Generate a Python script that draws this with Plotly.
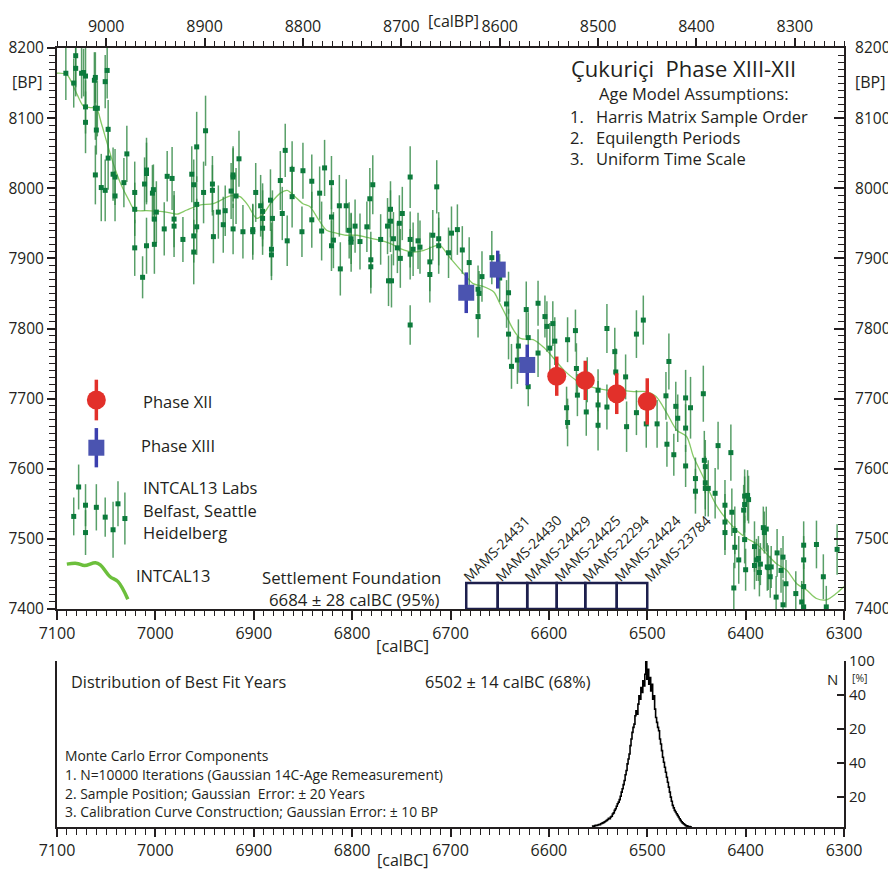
import plotly.graph_objects as go

# the page body adds an 8 px margin, so the figure is drawn 8 px in and 8 px down
W, H = 888, 864
OFF = 8

# ---------------- data ----------------
# INTCAL13 lab measurements (calBC, BP, 1-sigma)
intcal_cal_a = [7091, 7083, 7081, 7081, 7075, 7073, 7071, 7071, 7071, 7062,
                7061, 7061, 7059, 7060, 7061, 7055, 7051, 7051, 7049, 7048,
                7048, 7043, 7041, 7041, 7032, 7029, 7021, 7021, 7021, 7013,
                7011, 7009, 7009, 7003, 7002, 7001, 7001, 6999, 7009, 6991,
                6988, 6983, 6981, 6981, 6972, 6963, 6961, 6958, 6958, 6961,
                6961, 6958, 6949, 6951, 6942, 6942, 6941, 6936, 6931, 6929,
                6923, 6921, 6921, 6921, 6918, 6915, 6911, 6901, 6901, 6898,
                6893, 6891, 6891, 6891, 6883, 6882, 6882, 6881, 6873, 6871,
                6868, 6866, 6861, 6861, 6851, 6850, 6841, 6841, 6833, 6831,
                6828, 6821, 6821, 6821, 6819, 6812, 6813, 6806, 6803, 6801,
                6801, 6797, 6792, 6785, 6782, 6781, 6781, 6779, 6771, 6764,
                6763, 6760, 6761, 6761, 6758, 6754, 6752, 6751, 6749, 6741,
                6741, 6741, 6738, 6733, 6731, 6721, 6721, 6718, 6714, 6712,
                6712, 6702, 6741]
intcal_bp_a = [8164, 8150, 8189, 8171, 8164, 8165, 8160, 8116, 8094, 8154,
               8158, 8114, 8114, 8083, 8019, 8001, 7997, 8152, 8168, 8084,
               8043, 8020, 8016, 7989, 8008, 8049, 7994, 7970, 7915, 7873,
               8006, 8026, 8021, 7993, 7998, 7956, 7920, 7966, 7918, 7942,
               8017, 8014, 7956, 7946, 7927, 8020, 8005, 8059, 7977, 7932,
               7909, 7945, 8082, 7994, 8006, 7997, 7931, 7966, 7948, 7968,
               7996, 8019, 8016, 7942, 7989, 8042, 7938, 7941, 7938, 7994,
               7975, 7967, 7943, 7957, 7983, 7913, 7905, 7957, 8011, 7964,
               8054, 7925, 8027, 7988, 7938, 8025, 8010, 7955, 7993, 7939,
               8029, 8008, 7959, 7918, 7926, 7885, 7975, 7975, 7940, 7928,
               7923, 7946, 7924, 7945, 7985, 7898, 7888, 8005, 7927, 7946,
               7868, 7868, 7970, 7953, 7928, 7915, 7950, 7900, 7964, 8016,
               7927, 7906, 7913, 7925, 7916, 7895, 7877, 7933, 8002, 7918,
               7928, 7908, 7805]
intcal_err_a = [38, 35, 45, 40, 36, 34, 42, 38, 44, 40,
                36, 45, 40, 35, 42, 48, 44, 38, 40, 42,
                45, 38, 40, 36, 35, 40, 44, 38, 40, 30,
                38, 46, 44, 40, 36, 38, 42, 44, 40, 38,
                36, 45, 40, 44, 32, 40, 36, 50, 40, 38,
                46, 40, 50, 44, 40, 36, 38, 38, 40, 36,
                40, 38, 44, 36, 40, 40, 38, 36, 40, 42,
                44, 40, 38, 40, 44, 38, 36, 40, 42, 38,
                38, 36, 40, 44, 36, 40, 38, 40, 38, 42,
                40, 38, 42, 36, 40, 38, 44, 38, 40, 36,
                42, 38, 40, 36, 44, 40, 38, 42, 36, 40,
                36, 38, 40, 44, 38, 36, 40, 42, 38, 44,
                40, 36, 38, 40, 38, 42, 40, 36, 38, 40,
                38, 36, 28]

intcal_cal_b = [6699, 6693, 6688, 6681, 6672, 6671, 6668, 6658, 6650, 6641]
intcal_bp_b = [7936, 7941, 7912, 7894, 7856, 7850, 7874, 7901, 7872, 7851]
intcal_err_b = [38, 36, 34, 36, 34, 32, 36, 38, 34, 30]

intcal_cal_c = [6672, 6643, 6641, 6638, 6631, 6632, 6623, 6621, 6621, 6611,
                6611, 6604, 6602, 6596, 6594, 6599, 6582, 6581, 6581, 6573,
                6572, 6571, 6562, 6561, 6550, 6550, 6550, 6541, 6541, 6533,
                6532, 6522, 6521, 6511, 6511, 6504, 6501, 6490, 6481, 6480,
                6478, 6473, 6471, 6469, 6461, 6461, 6461, 6456, 6451, 6451,
                6443, 6442, 6441, 6441, 6441, 6438, 6431, 6428, 6421, 6421,
                6421, 6415, 6414, 6412, 6411, 6411, 6407, 6402, 6401, 6401,
                6401, 6400, 6398, 6397, 6391, 6391, 6389, 6387, 6386, 6385,
                6382, 6381, 6379, 6378, 6375, 6377, 6374, 6368, 6369, 6364,
                6362, 6362, 6359, 6349, 6343, 6341, 6341, 6341, 6341, 6328,
                6321, 6318, 6307]
intcal_bp_c = [7817, 7835, 7792, 7746, 7775, 7755, 7827, 7787, 7717, 7836,
               7765, 7817, 7803, 7807, 7782, 7772, 7687, 7784, 7666, 7797,
               7743, 7705, 7681, 7727, 7712, 7691, 7662, 7800, 7688, 7767,
               7738, 7731, 7660, 7792, 7680, 7812, 7664, 7664, 7704, 7635,
               7753, 7620, 7689, 7672, 7701, 7604, 7658, 7687, 7586, 7568,
               7707, 7612, 7603, 7580, 7572, 7572, 7565, 7633, 7548, 7524,
               7509, 7623, 7538, 7430, 7512, 7488, 7470, 7541, 7549, 7561,
               7499, 7456, 7562, 7556, 7489, 7462, 7470, 7472, 7452, 7464,
               7516, 7509, 7514, 7460, 7446, 7459, 7460, 7480, 7417, 7455,
               7474, 7406, 7436, 7422, 7410, 7491, 7470, 7432, 7403, 7492,
               7446, 7403, 7485]
intcal_err_c = [30, 34, 36, 32, 38, 34, 40, 36, 28, 32,
                34, 30, 36, 32, 34, 36, 30, 32, 34, 30,
                36, 30, 34, 32, 30, 34, 36, 35, 32, 34,
                34, 32, 36, 34, 32, 35, 34, 34, 34, 32,
                40, 30, 35, 34, 40, 30, 34, 44, 30, 32,
                40, 42, 38, 38, 40, 40, 36, 34, 36, 40,
                32, 40, 34, 36, 34, 30, 34, 36, 40, 38,
                34, 30, 36, 34, 36, 34, 30, 32, 34, 30,
                30, 30, 32, 34, 30, 32, 30, 34, 30, 32,
                30, 36, 34, 32, 30, 34, 34, 32, 30, 34,
                32, 30, 36]

# INTCAL13 calibration curve
curve_cal = [7100, 7090, 7080, 7073, 7066, 7060, 7055, 7049, 7043, 7036,
             7027, 7021, 7009, 6995, 6985, 6978, 6968, 6955, 6941, 6924,
             6914, 6906, 6897, 6890, 6883, 6873, 6866, 6858, 6850, 6843,
             6834, 6826, 6816, 6806, 6795, 6785, 6772, 6761, 6751, 6738,
             6728, 6717, 6711, 6700, 6687, 6677, 6667, 6656, 6650, 6643,
             6636, 6629, 6616, 6606, 6599, 6585, 6572, 6558, 6541, 6528,
             6514, 6501, 6491, 6480, 6470, 6460, 6453, 6443, 6436, 6429,
             6419, 6409, 6399, 6389, 6379, 6369, 6358, 6348, 6338, 6328,
             6318, 6308, 6300]
curve_bp = [8164, 8162, 8135, 8117, 8115, 8114, 8093, 8064, 8036, 8009,
            7983, 7969, 7968, 7967, 7965, 7963, 7969, 7976, 7978, 7989,
            7988, 7976, 7957, 7964, 7978, 7993, 7997, 7988, 7978, 7974,
            7955, 7940, 7936, 7933, 7933, 7930, 7926, 7921, 7914, 7909,
            7911, 7917, 7919, 7900, 7879, 7864, 7860, 7852, 7836, 7817,
            7798, 7786, 7784, 7774, 7764, 7741, 7726, 7717, 7712, 7712,
            7710, 7710, 7703, 7679, 7655, 7646, 7617, 7588, 7565, 7546,
            7527, 7512, 7501, 7493, 7479, 7465, 7455, 7436, 7427, 7415,
            7413, 7422, 7432]

# Çukuriçi samples
phase13_ids = ["MAMS-24431", "MAMS-24430", "MAMS-24429"]
phase13_cal = [6684, 6652, 6622]
phase13_bp = [7851, 7884, 7748]
phase13_err = [29, 27, 29]

phase12_ids = ["MAMS-24425", "MAMS-22294", "MAMS-24424", "MAMS-23784"]
phase12_cal = [6592, 6563, 6531, 6500]
phase12_bp = [7732, 7726, 7707, 7696]
phase12_err = [28, 28, 29, 33]

# legend sample glyphs (drawn in data space)
leg_xii_cal, leg_xii_bp, leg_xii_err = [7060], [7698], [29]
leg_xiii_cal, leg_xiii_bp, leg_xiii_err = [7060], [7630], [28]
leg_lab_cal = [7083, 7078, 7071, 7071, 7060, 7051, 7043, 7038, 7031]
leg_lab_bp = [7532, 7574, 7548, 7509, 7545, 7531, 7513, 7550, 7529]
leg_lab_err = [27, 32, 30, 32, 33, 28, 40, 32, 37]
leg_curve_cal = [7090, 7080, 7072, 7061, 7056, 7046, 7038, 7028]
leg_curve_bp = [7464, 7465, 7462, 7466, 7463, 7446, 7439, 7414]

# Monte-Carlo distribution of best-fit years (% of peak)
hist_year = [6556, 6555, 6554, 6553, 6552, 6551, 6550, 6549, 6548, 6547,
             6546, 6545, 6544, 6543, 6542, 6541, 6540, 6539, 6538, 6537,
             6536, 6535, 6534, 6533, 6532, 6531, 6530, 6529, 6528, 6527,
             6526, 6525, 6524, 6523, 6522, 6521, 6520, 6519, 6518, 6517,
             6516, 6515, 6514, 6513, 6512, 6511, 6510, 6509, 6508, 6507,
             6506, 6505, 6504, 6503, 6502, 6501, 6500, 6499, 6498, 6497,
             6496, 6495, 6494, 6493, 6492, 6491, 6490, 6489, 6488, 6487,
             6486, 6485, 6484, 6483, 6482, 6481, 6480, 6479, 6478, 6477,
             6476, 6475, 6474, 6473, 6472, 6471, 6470, 6469, 6468, 6467,
             6466, 6465, 6464, 6463, 6462, 6461, 6460, 6459, 6458, 6457,
             6456, 6455]
hist_pct = [0.3, 0.5, 0.4, 0.8, 1.0, 0.9, 1.2, 1.5, 1.4, 2.0,
            2.2, 2.5, 2.8, 3.2, 3.6, 4.0, 4.5, 5.2, 5.0, 6.0,
            6.5, 7.8, 8.5, 10.0, 11.0, 12.5, 14.0, 15.0, 16.5, 18.5,
            21.0, 23.0, 25.5, 28.0, 31.5, 34.0, 38.0, 41.0, 44.0, 49.0,
            53.0, 57.0, 60.0, 62.0, 67.0, 70.0, 68.0, 74.0, 79.0, 77.0,
            84.0, 81.0, 88.0, 85.0, 92.0, 100.0, 89.0, 95.0, 86.0, 90.0,
            82.0, 86.0, 77.0, 79.0, 71.0, 66.0, 63.0, 60.0, 58.0, 53.0,
            50.0, 46.0, 42.0, 39.0, 36.0, 33.0, 30.0, 27.0, 24.0, 21.0,
            18.0, 15.5, 13.0, 11.5, 10.0, 9.0, 8.0, 7.0, 6.0, 5.0,
            4.0, 3.2, 2.5, 2.0, 1.5, 1.0, 0.7, 0.5, 0.3, 0.2,
            0.1, 0.0]

# axis tick labels of the distribution panel
dist_tickvals = [18, 38.5, 59, 79.5, 100]
dist_ticktext = ["20", "40", "20", "40", "100"]

cal_range = [7100, 6300]
bp_range = [7400, 8200]
box_top_bp = 7437

# ---------------- styling ----------------
FONT = "Open Sans"
INK = "#231f20"
GREEN_PT = "#0c7a3c"
GREEN_ERR = "rgba(46,135,66,0.8)"
CURVE = "#86c966"
BLUE = "#4b54b0"
BLUE_ERR = "#3b3fae"
RED = "#e2302a"
NAVY = "#1d1f4d"


def px(x):
    return (x - OFF) / W


def py(y):
    return 1 - (y - OFF) / H


fig = go.Figure()

intcal_cal = intcal_cal_a + intcal_cal_b + intcal_cal_c
intcal_bp = intcal_bp_a + intcal_bp_b + intcal_bp_c
intcal_err = intcal_err_a + intcal_err_b + intcal_err_c

fig.add_trace(go.Scatter(x=curve_cal, y=curve_bp, mode="lines",
                         line=dict(color=CURVE, width=1.3, shape="spline", smoothing=0.8),
                         hoverinfo="skip", showlegend=False))
fig.add_trace(go.Scatter(x=intcal_cal, y=intcal_bp, mode="markers",
                         marker=dict(symbol="square", size=5, color=GREEN_PT),
                         error_y=dict(type="data", array=intcal_err, color=GREEN_ERR,
                                      thickness=1.5, width=0),
                         showlegend=False))
fig.add_trace(go.Scatter(x=phase13_cal, y=phase13_bp, mode="markers",
                         marker=dict(symbol="square", size=16, color=BLUE),
                         error_y=dict(type="data", array=phase13_err, color=BLUE_ERR,
                                      thickness=3.5, width=0),
                         showlegend=False))
fig.add_trace(go.Scatter(x=phase12_cal, y=phase12_bp, mode="markers",
                         marker=dict(symbol="circle", size=19, color=RED),
                         error_y=dict(type="data", array=phase12_err, color=RED,
                                      thickness=3.5, width=0),
                         showlegend=False))

# legend glyphs
fig.add_trace(go.Scatter(x=leg_xii_cal, y=leg_xii_bp, mode="markers",
                         marker=dict(symbol="circle", size=19, color=RED),
                         error_y=dict(type="data", array=leg_xii_err, color=RED,
                                      thickness=3.5, width=0),
                         showlegend=False))
fig.add_trace(go.Scatter(x=leg_xiii_cal, y=leg_xiii_bp, mode="markers",
                         marker=dict(symbol="square", size=16, color=BLUE),
                         error_y=dict(type="data", array=leg_xiii_err, color=BLUE_ERR,
                                      thickness=3.5, width=0),
                         showlegend=False))
fig.add_trace(go.Scatter(x=leg_lab_cal, y=leg_lab_bp, mode="markers",
                         marker=dict(symbol="square", size=5, color=GREEN_PT),
                         error_y=dict(type="data", array=leg_lab_err, color=GREEN_ERR,
                                      thickness=1.5, width=0),
                         showlegend=False))
fig.add_trace(go.Scatter(x=leg_curve_cal, y=leg_curve_bp, mode="lines",
                         line=dict(color="#6cbf3c", width=3.5, shape="spline"),
                         showlegend=False))

# helper trace for the secondary (calBP / right BP) axes
fig.add_trace(go.Scatter(x=[c + 1950 for c in cal_range], y=bp_range, mode="markers",
                         marker=dict(opacity=0), xaxis="x3", yaxis="y3",
                         hoverinfo="skip", showlegend=False))

# distribution
fig.add_trace(go.Scatter(x=hist_year, y=hist_pct, mode="lines",
                         line=dict(color="black", width=1.6, shape="hvh"),
                         xaxis="x2", yaxis="y2", showlegend=False))

# settlement boxes under the samples
sample_ids = phase13_ids + phase12_ids
sample_cal = phase13_cal + phase12_cal
shapes = []
for a, b in zip(sample_cal[:-1], sample_cal[1:]):
    shapes.append(dict(type="rect", xref="x", yref="y", x0=a, x1=b,
                       y0=bp_range[0], y1=box_top_bp,
                       line=dict(color=NAVY, width=2.5)))

annotations = []


def ann(text, x, y, size=16, xanchor="left", yanchor="middle", **kw):
    annotations.append(dict(text=text, x=px(x), y=py(y), xref="paper", yref="paper",
                            xanchor=xanchor, yanchor=yanchor, showarrow=False,
                            font=dict(family=FONT, size=size, color=INK), **kw))


for sid, c in zip(sample_ids, sample_cal):
    annotations.append(dict(text=sid, x=c, y=box_top_bp, xref="x", yref="y",
                            xanchor="left", yanchor="bottom", textangle=-45,
                            showarrow=False, xshift=-10, yshift=-5,
                            font=dict(family=FONT, size=14, color=INK)))

ann("Çukuriçi  Phase XIII-XII", 569, 68, size=22)
ann("Age Model Assumptions:", 597, 93, size=16.5)
for n, t, yy in [("1.", "Harris Matrix Sample Order", 116),
                 ("2.", "Equilength Periods", 137),
                 ("3.", "Uniform Time Scale", 159)]:
    ann(n, 568, yy, size=16.5)
    ann(t, 594, yy, size=16.5)

ann("[calBP]", 453, 8.5, size=16, xanchor="center", yanchor="top", borderpad=0)
ann("[BP]", 27, 82, size=16, xanchor="center")
ann("[BP]", 870, 82, size=16, xanchor="center")
ann("[calBC]", 402, 645, size=16.5, xanchor="center")
ann("[calBC]", 402, 871.5, size=16, xanchor="center", yanchor="bottom", borderpad=0)

ann("Phase XII", 141, 401, size=16.5)
ann("Phase XIII", 139, 445, size=16.5)
ann("INTCAL13 Labs", 141, 487, size=16.5)
ann("Belfast, Seattle", 141, 510, size=16.5)
ann("Heidelberg", 141, 532, size=16.5)
ann("INTCAL13", 134, 575, size=16.5)

ann("Settlement Foundation", 443, 577, size=16.8, xanchor="right")
ann("6684 ± 28 calBC (95%)", 442, 599, size=16.8, xanchor="right")

ann("Distribution of Best Fit Years", 69, 682, size=16.3)
ann("6502 ± 14 calBC (68%)", 423, 682, size=16.3)
ann("Monte Carlo Error Components", 63, 755, size=13.9)
ann("1. N=10000 Iterations (Gaussian 14C-Age Remeasurement)", 63, 774, size=13.9)
ann("2. Sample Position; Gaussian  Error: ± 20 Years", 63, 793, size=13.9)
ann("3. Calibration Curve Construction; Gaussian Error: ± 10 BP", 63, 811, size=13.9)
ann("N", 832, 679, size=15, xanchor="center")
ann("[%]", 860, 678, size=10.5, xanchor="center", borderpad=0)

X_DOM = [px(57), px(844)]
MAIN_DOM = [py(609), py(48)]
DIST_DOM = [py(827), py(661)]

tickfont = dict(family=FONT, size=16, color=INK)
ytickfont = dict(family=FONT, size=15.5, color=INK)
disttickfont = dict(family=FONT, size=15, color=INK)


def lin_axis(**kw):
    base = dict(showgrid=False, zeroline=False, showline=True, linecolor=INK,
                linewidth=2, tickcolor=INK, tickwidth=1.5, tickfont=tickfont,
                automargin=False)
    base.update(kw)
    return base


fig.update_layout(
    width=W, height=H, template="none",
    margin=dict(l=0, r=0, t=0, b=0),
    paper_bgcolor="white", plot_bgcolor="rgba(0,0,0,0)",
    font=dict(family=FONT, size=16, color=INK),
    showlegend=False,
    xaxis=lin_axis(domain=X_DOM, range=cal_range, anchor="y",
                   tick0=7100, dtick=100, ticks="outside", ticklen=9,
                   minor=dict(dtick=10, ticks="outside", ticklen=5, tickwidth=1.2,
                              tickcolor=INK)),
    yaxis=lin_axis(domain=MAIN_DOM, range=bp_range, anchor="x", tickfont=ytickfont,
                   tick0=7400, dtick=100, ticks="outside", ticklen=8,
                   minor=dict(dtick=10, ticks="outside", ticklen=6, tickwidth=1.2,
                              tickcolor=INK)),
    xaxis3=lin_axis(range=[c + 1950 for c in cal_range], overlaying="x", side="top",
                    anchor="y3", tick0=9000, dtick=100, ticks="outside", ticklen=8,
                    minor=dict(dtick=10, ticks="outside", ticklen=5, tickwidth=1.2,
                               tickcolor=INK)),
    yaxis3=lin_axis(range=bp_range, overlaying="y", side="right", anchor="x3",
                    tickfont=ytickfont,
                    tick0=7400, dtick=100, ticks="inside", ticklen=10,
                    ticklabelstandoff=6,
                    minor=dict(dtick=10, ticks="inside", ticklen=6, tickwidth=1.2,
                               tickcolor=INK)),
    xaxis2=lin_axis(domain=X_DOM, range=cal_range, anchor="y2",
                    tick0=7100, dtick=100, ticks="outside", ticklen=8,
                    minor=dict(dtick=10, ticks="outside", ticklen=6, tickwidth=1.2,
                               tickcolor=INK)),
    yaxis2=lin_axis(domain=DIST_DOM, range=[0, 100], anchor="x2", side="right",
                    mirror=True, tickvals=dist_tickvals, ticktext=dist_ticktext,
                    tickfont=disttickfont,
                    ticks="inside", ticklen=7, ticklabelstandoff=0),
    shapes=shapes,
    annotations=annotations,
)

fig.write_html("out.html")
